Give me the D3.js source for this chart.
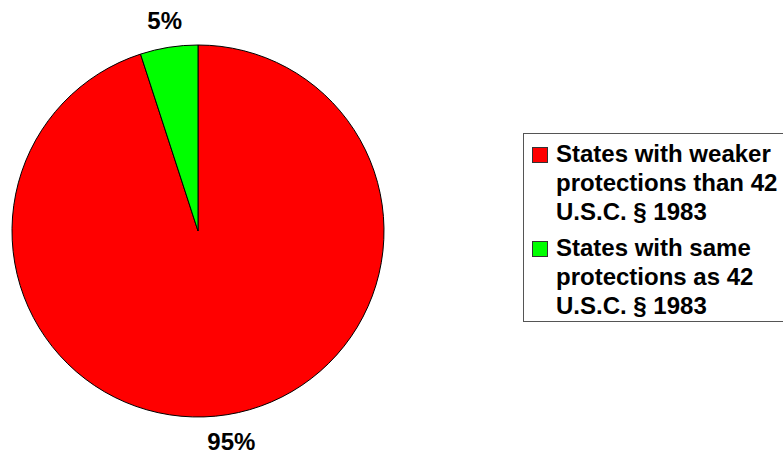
<!DOCTYPE html>
<html lang="en">
<head>
    <meta charset="UTF-8"/>
    <title>pie</title>
    <script src="https://d3js.org/d3.v7.min.js"></script>
    <style type="text/css">
        body {
            margin: 0;
            background: white;
        }
        text {
            font-family: "Liberation Sans", Arial, sans-serif;
            font-weight: bold;
            font-size: 24px;
            fill: black;
        }
    </style>
</head>
<body>
<svg id="main" width="783" height="456"></svg>

<script>

// data
var categories = ["States with weaker protections than 42 U.S.C. § 1983",
                  "States with same protections as 42 U.S.C. § 1983"]
var values = [95, 5]
var pctLabels = ["95%", "5%"]
// legend text broken into lines the way the picture shows it
var legendLines = [["States with weaker", "protections than 42", "U.S.C. § 1983"],
                   ["States with same", "protections as 42", "U.S.C. § 1983"]]
var colors = ["#ff0000", "#00ff00"]

var width = 783,
    height = 456,
    cx = 198,
    cy = 231,
    radius = 186

var svg = d3.select("#main")

var color = d3.scaleOrdinal()
  .domain(categories)
  .range(colors)

// pie starts at 12 o'clock and goes clockwise, no sorting
var pie = d3.pie()
  .sort(null)
  .value(function(d) { return d.value })

var data_ready = pie(categories.map(function(c, i) {
  return {key: c, value: values[i], label: pctLabels[i]}
}))

var arc = d3.arc()
  .innerRadius(0)
  .outerRadius(radius)

// only used to place the percent labels outside the pie
var labelArc = d3.arc()
  .innerRadius(213)
  .outerRadius(213)

var g = svg.append("g")
  .attr("transform", "translate(" + cx + "," + cy + ")")

g.selectAll("slices")
  .data(data_ready)
  .enter()
  .append("path")
  .attr("d", arc)
  .attr("fill", function(d) { return color(d.data.key) })
  .attr("stroke", "black")
  .attr("stroke-width", 1)

g.selectAll("labels")
  .data(data_ready)
  .enter()
  .append("text")
  .text(function(d) { return d.data.label })
  .attr("transform", function(d) { return "translate(" + labelArc.centroid(d) + ")" })
  .attr("text-anchor", "middle")
  .attr("dy", "0.36em")

// legend (runs off the right edge like the original)
var legend = svg.append("g")

legend.append("rect")
  .attr("x", 523.5)
  .attr("y", 133.5)
  .attr("width", 300)
  .attr("height", 188)
  .attr("fill", "white")
  .attr("stroke", "#555")
  .attr("stroke-width", 1)

var lineH = 29
var entryY = [162, 256]

var entries = legend.selectAll("entries")
  .data(categories)
  .enter()
  .append("g")
  .attr("transform", function(d, i) { return "translate(0," + entryY[i] + ")" })

entries.append("rect")
  .attr("x", 532.5)
  .attr("y", -14.5)
  .attr("width", 15)
  .attr("height", 15)
  .attr("fill", function(d) { return color(d) })
  .attr("stroke", "#333")
  .attr("stroke-width", 1)

entries.append("text")
  .attr("x", 556)
  .selectAll("tspan")
  .data(function(d, i) { return legendLines[i] })
  .enter()
  .append("tspan")
  .attr("x", 556)
  .attr("y", function(d, j) { return j * lineH })
  .text(function(d) { return d })

</script>
</body>
</html>
